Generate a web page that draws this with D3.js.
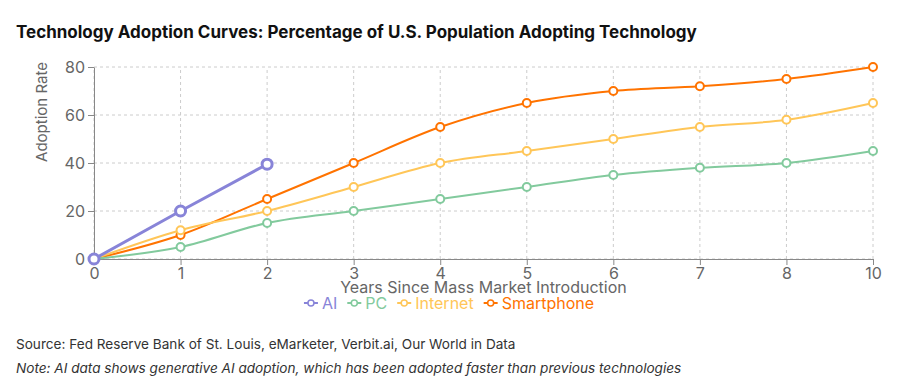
<!DOCTYPE html>
<html>
<head>
<meta charset="utf-8">
<script src="https://cdn.jsdelivr.net/npm/d3@7"></script>
<style>
  body { margin: 0; background: #fff; font-family: Inter, "Helvetica Neue", Arial, sans-serif; }
  svg text { font-family: Inter, "Helvetica Neue", Arial, sans-serif; }
</style>
</head>
<body>
<svg id="chart" width="908" height="387"></svg>
<script>
// Data
const years = ["0", "1", "2", "3", "4", "5", "6", "7", "8", "10"];
const aiValues = [0, 20, 39.5];
const pcValues = [0, 5, 15, 20, 25, 30, 35, 38, 40, 45];
const internetValues = [0, 12, 20, 30, 40, 45, 50, 55, 58, 65];
const smartphoneValues = [0, 10, 25, 40, 55, 65, 70, 72, 75, 80];
const yTicks = [0, 20, 40, 60, 80];

const series = [
    { name: "AI", values: aiValues, color: "#8884d8", width: 3, r: 5 },
    { name: "PC", values: pcValues, color: "#82ca9d", width: 2, r: 4 },
    { name: "Internet", values: internetValues, color: "#ffc658", width: 2, r: 4 },
    { name: "Smartphone", values: smartphoneValues, color: "#ff7300", width: 2, r: 4 }
];

const svg = d3.select("#chart");
const margin = { left: 94, right: 35, top: 67, bottom: 128 };
const W = 908, H = 387;

const x = d3.scalePoint().domain(years).range([margin.left, W - margin.right]);
const y = d3.scaleLinear().domain([0, 80]).range([H - margin.bottom, margin.top]);

// title
svg.append("text")
    .attr("x", 16).attr("y", 38)
    .attr("font-size", 17).attr("font-weight", 700).attr("fill", "#111")
    .text("Technology Adoption Curves: Percentage of U.S. Population Adopting Technology");

// grid
const grid = svg.append("g").attr("stroke", "#ccc").attr("stroke-dasharray", "3 3");
grid.selectAll("line.h").data(yTicks).join("line")
    .attr("x1", x.range()[0]).attr("x2", x.range()[1])
    .attr("y1", d => y(d)).attr("y2", d => y(d));
grid.selectAll("line.v").data(years).join("line")
    .attr("x1", d => x(d)).attr("x2", d => x(d))
    .attr("y1", y(0)).attr("y2", y(80));

// axes
const xAxis = svg.append("g")
    .attr("transform", `translate(0,${y(0)})`)
    .call(d3.axisBottom(x).tickSizeOuter(0).tickPadding(3));
const yAxis = svg.append("g")
    .attr("transform", `translate(${margin.left},0)`)
    .call(d3.axisLeft(y).tickValues(yTicks).tickSizeOuter(0).tickPadding(3));
[xAxis, yAxis].forEach(g => {
    g.select(".domain").attr("stroke", "#888");
    g.selectAll(".tick line").attr("stroke", "#888");
    g.selectAll(".tick text").attr("fill", "#666").attr("font-size", 16)
        .style("font-family", "Inter, 'Helvetica Neue', Arial, sans-serif");
});

// axis labels
svg.append("text")
    .attr("x", (x.range()[0] + x.range()[1]) / 2).attr("y", 293)
    .attr("text-anchor", "middle").attr("font-size", 16).attr("fill", "#666")
    .text("Years Since Mass Market Introduction");
svg.append("text")
    .attr("transform", "translate(47,112) rotate(-90)")
    .attr("text-anchor", "middle").attr("font-size", 15).attr("fill", "#666")
    .text("Adoption Rate");

// lines
const line = d3.line()
    .x((d, i) => x(years[i]))
    .y(d => y(d))
    .curve(d3.curveMonotoneX);

const lines = svg.append("g");
series.slice().reverse().forEach(s => {
    lines.append("path")
        .attr("d", line(s.values))
        .attr("fill", "none")
        .attr("stroke", s.color)
        .attr("stroke-width", s.width);
    lines.append("g").selectAll("circle").data(s.values).join("circle")
        .attr("cx", (d, i) => x(years[i]))
        .attr("cy", d => y(d))
        .attr("r", s.r)
        .attr("fill", "#fff")
        .attr("stroke", s.color)
        .attr("stroke-width", s.width);
});

// legend
const legend = svg.append("g");
let lx = 0;
series.forEach(s => {
    const item = legend.append("g").attr("transform", `translate(${lx},0)`);
    item.append("line").attr("x1", 0).attr("x2", 14).attr("y1", 0).attr("y2", 0)
        .attr("stroke", s.color).attr("stroke-width", 2);
    item.append("circle").attr("cx", 7).attr("cy", 0).attr("r", 3)
        .attr("fill", "#fff").attr("stroke", s.color).attr("stroke-width", 1.5);
    const t = item.append("text").attr("x", 18).attr("y", 0).attr("dy", "0.35em")
        .attr("font-size", 16).attr("fill", s.color).text(s.name);
    lx += 18 + t.node().getComputedTextLength() + 10;
});
legend.attr("transform", `translate(${449 - (lx - 10) / 2},303)`);

// footnotes
svg.append("text")
    .attr("x", 16).attr("y", 349)
    .attr("font-size", 13.6).attr("fill", "#333")
    .text("Source: Fed Reserve Bank of St. Louis, eMarketer, Verbit.ai, Our World in Data");
svg.append("text")
    .attr("x", 16).attr("y", 373)
    .attr("font-size", 13.6).attr("fill", "#333").attr("font-style", "italic")
    .text("Note: AI data shows generative AI adoption, which has been adopted faster than previous technologies");
</script>
</body>
</html>
